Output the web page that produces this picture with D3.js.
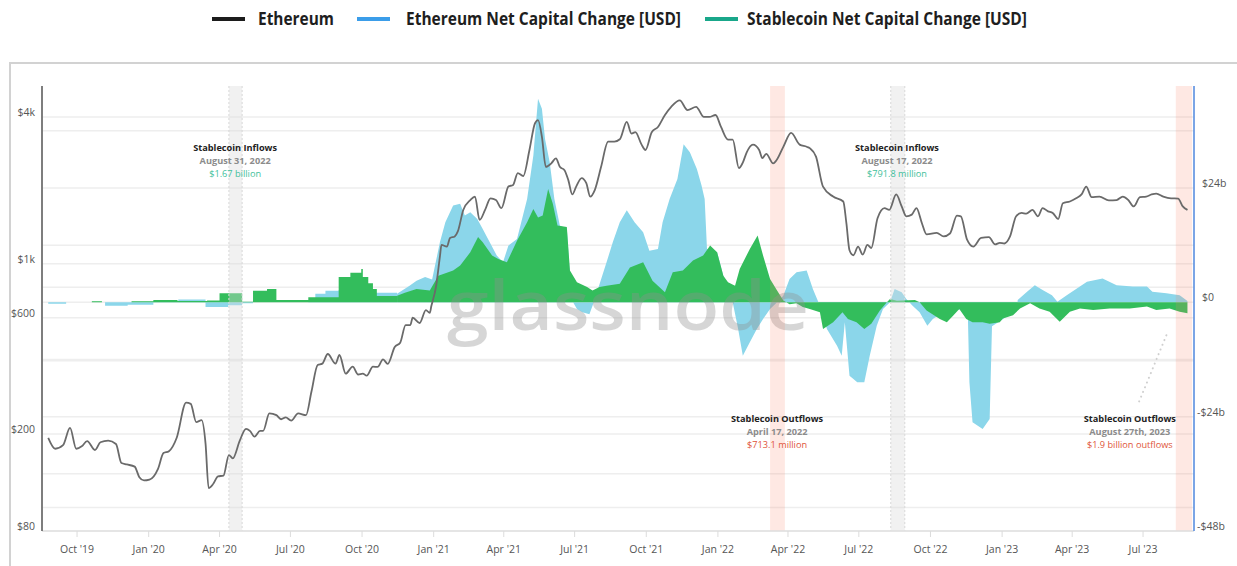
<!DOCTYPE html>
<html><head><meta charset="utf-8">
<script src="https://cdn.jsdelivr.net/npm/d3@7"></script>
<style>
html,body{margin:0;padding:0;background:#fff;}
svg{display:block;font-family:"Open Sans",sans-serif;}
</style></head><body>
<svg id="c" width="1237" height="566"></svg>
<script>
// ---------- DATA ----------
const seriesNames = ["Ethereum", "Ethereum Net Capital Change [USD]", "Stablecoin Net Capital Change [USD]"];
const leftTicks = [80, 200, 600, 1000, 4000];
const leftTickLabels = ["$80", "$200", "$600", "$1k", "$4k"];
const leftGrid = [80, 100, 200, 400, 600, 800, 1000, 4000];
const rightTicks = [-48, -24, 0, 24];
const rightTickLabels = ["-$48b", "-$24b", "$0", "$24b"];
const rightGrid = [-48, -36, -24, -12, 0, 12, 24, 36];

// Ethereum price (USD)
const ethPrice = [["2019-08-25",193],["2019-09-03",174],["2019-09-13",180],["2019-09-22",212],["2019-09-30",174],["2019-10-07",178],["2019-10-14",187],["2019-10-24",172],["2019-10-31",185],["2019-11-10",188],["2019-11-20",182],["2019-11-27",152],["2019-12-04",150],["2019-12-14",147],["2019-12-20",133],["2019-12-26",129],["2020-01-02",130],["2020-01-13",144],["2020-01-20",167],["2020-01-27",170],["2020-02-06",193],["2020-02-18",269],["2020-02-24",266],["2020-03-02",224],["2020-03-09",228],["2020-03-14",183],["2020-03-18",120],["2020-03-24",125],["2020-03-30",134],["2020-04-06",135],["2020-04-13",164],["2020-04-18",159],["2020-04-27",188],["2020-05-05",210],["2020-05-10",206],["2020-05-16",195],["2020-05-23",206],["2020-05-27",206],["2020-06-04",243],["2020-06-13",239],["2020-06-19",230],["2020-06-25",234],["2020-07-02",227],["2020-07-11",243],["2020-07-21",239],["2020-07-28",298],["2020-08-05",384],["2020-08-11",389],["2020-08-18",426],["2020-08-28",389],["2020-09-02",422],["2020-09-10",354],["2020-09-19",378],["2020-09-26",351],["2020-10-02",354],["2020-10-07",347],["2020-10-15",378],["2020-10-21",377],["2020-10-28",405],["2020-11-03",388],["2020-11-12",455],["2020-11-19",474],["2020-11-26",560],["2020-12-02",560],["2020-12-05",600],["2020-12-14",571],["2020-12-22",645],["2020-12-27",628],["2020-12-29",670],["2021-01-04",805],["2021-01-09",1069],["2021-01-11",1194],["2021-01-18",1175],["2021-01-22",1274],["2021-01-28",1294],["2021-02-01",1356],["2021-02-08",1662],["2021-02-17",1825],["2021-02-23",1885],["2021-03-01",1512],["2021-03-08",1662],["2021-03-15",1854],["2021-03-22",1825],["2021-03-29",1690],["2021-04-07",2072],["2021-04-13",2105],["2021-04-19",2353],["2021-04-26",2290],["2021-05-04",2928],["2021-05-11",3761],["2021-05-15",3880],["2021-05-20",3317],["2021-05-25",2497],["2021-06-01",2579],["2021-06-07",2706],["2021-06-12",2497],["2021-06-18",2420],["2021-06-23",2197],["2021-06-28",1924],["2021-07-03",2072],["2021-07-10",2245],["2021-07-16",2140],["2021-07-21",1885],["2021-07-27",2010],["2021-08-04",2497],["2021-08-13",3170],["2021-08-21",3170],["2021-08-28",3240],["2021-09-06",3820],["2021-09-12",3420],["2021-09-17",3465],["2021-09-25",3080],["2021-09-30",2928],["2021-10-08",3465],["2021-10-16",3640],["2021-10-25",4075],["2021-11-02",4400],["2021-11-13",4680],["2021-11-23",4270],["2021-12-04",4400],["2021-12-14",4000],["2021-12-21",4000],["2021-12-29",4075],["2022-01-05",3640],["2022-01-14",3230],["2022-01-20",3230],["2022-01-28",2467],["2022-02-02",2600],["2022-02-07",2865],["2022-02-15",3080],["2022-02-23",2928],["2022-02-27",2710],["2022-03-04",2820],["2022-03-13",2580],["2022-03-17",2650],["2022-03-26",3015],["2022-04-05",3440],["2022-04-16",3080],["2022-04-25",3020],["2022-04-29",2980],["2022-05-07",2750],["2022-05-16",2070],["2022-05-29",1885],["2022-06-11",1800],["2022-06-15",1466],["2022-06-19",1135],["2022-06-24",1083],["2022-06-30",1175],["2022-07-06",1090],["2022-07-12",1194],["2022-07-17",1160],["2022-07-25",1536],["2022-08-03",1690],["2022-08-09",1662],["2022-08-18",1924],["2022-08-25",1718],["2022-08-31",1565],["2022-09-07",1590],["2022-09-13",1690],["2022-09-20",1466],["2022-09-26",1320],["2022-10-09",1337],["2022-10-18",1295],["2022-10-26",1330],["2022-11-04",1575],["2022-11-09",1565],["2022-11-17",1254],["2022-11-25",1175],["2022-12-05",1275],["2022-12-15",1285],["2022-12-23",1200],["2022-12-29",1218],["2023-01-04",1210],["2023-01-11",1290],["2023-01-19",1565],["2023-01-26",1615],["2023-02-01",1605],["2023-02-09",1662],["2023-02-16",1565],["2023-02-22",1690],["2023-03-01",1640],["2023-03-07",1615],["2023-03-14",1525],["2023-03-20",1770],["2023-03-29",1800],["2023-04-06",1854],["2023-04-13",1924],["2023-04-19",2072],["2023-04-26",1875],["2023-05-06",1885],["2023-05-18",1820],["2023-05-28",1825],["2023-06-05",1885],["2023-06-12",1825],["2023-06-19",1718],["2023-06-27",1875],["2023-07-05",1885],["2023-07-12",1924],["2023-07-18",1940],["2023-07-27",1885],["2023-08-06",1854],["2023-08-15",1850],["2023-08-21",1718],["2023-08-27",1662]];

// Ethereum net capital change (USD billions)
const ethFlow = [["2019-08-25",-0.3],["2019-09-17",0],["2019-11-06",-0.7],["2019-12-05",-0.5],["2020-01-07",0.1],["2020-02-08",0.6],["2020-03-14",-1.0],["2020-04-12",-0.6],["2020-04-30",-0.2],["2020-05-14",0],["2020-07-24",0.3],["2020-08-02",1.8],["2020-08-15",2.4],["2020-09-01",2.6],["2020-09-10",1.5],["2020-10-15",2.0],["2020-11-15",1.8],["2020-12-01",3.5],["2020-12-10",4.5],["2020-12-21",5.3],["2020-12-30",4.8],["2021-01-09",12.6],["2021-01-16",16.8],["2021-01-26",20.3],["2021-02-04",20.7],["2021-02-10",18.2],["2021-02-17",18.9],["2021-02-26",17.5],["2021-03-05",15.4],["2021-03-14",12.6],["2021-03-23",9.8],["2021-03-31",8.4],["2021-04-07",11.9],["2021-04-18",13.3],["2021-05-01",21.7],["2021-05-09",30.8],["2021-05-15",42.7],["2021-05-20",40.6],["2021-05-24",34.3],["2021-05-30",29.4],["2021-06-05",21.7],["2021-06-12",16.1],["2021-06-21",15.4],["2021-06-25",5.6],["2021-06-29",0],["2021-07-04",-1.4],["2021-07-11",-2.1],["2021-07-20",-2.5],["2021-07-24",-0.7],["2021-07-31",2.8],["2021-08-11",8.4],["2021-08-19",12.6],["2021-08-28",16.8],["2021-09-06",19.3],["2021-09-16",16.8],["2021-09-27",14.7],["2021-10-05",10.8],["2021-10-16",11.2],["2021-10-22",16.8],["2021-10-31",21.7],["2021-11-10",25.9],["2021-11-18",33.2],["2021-11-26",31.5],["2021-12-05",28.0],["2021-12-11",24.5],["2021-12-15",21.7],["2021-12-18",11.2],["2021-12-31",10.5],["2022-01-08",5.6],["2022-01-20",0],["2022-01-27",-5.6],["2022-02-02",-11.2],["2022-02-11",-8.4],["2022-02-20",-5.6],["2022-02-28",-3.5],["2022-03-09",-1.4],["2022-03-18",0],["2022-03-26",1.4],["2022-04-03",4.9],["2022-04-12",6.3],["2022-04-25",6.7],["2022-05-03",2.8],["2022-05-12",-0.7],["2022-05-21",-5.6],["2022-06-03",-9.1],["2022-06-09",-11.2],["2022-06-13",-4.2],["2022-06-19",-15.4],["2022-06-29",-16.8],["2022-07-08",-16.8],["2022-07-15",-11.2],["2022-07-24",-4.9],["2022-08-01",-1.4],["2022-08-10",0],["2022-08-16",2.8],["2022-08-25",2.1],["2022-08-31",0.7],["2022-09-08",-0.7],["2022-09-17",-2.1],["2022-09-27",-4.9],["2022-10-04",-3.5],["2022-10-17",-2.1],["2022-10-30",-1.7],["2022-11-11",-1.4],["2022-11-18",-2.8],["2022-11-20",-16.8],["2022-11-24",-25.2],["2022-12-07",-26.6],["2022-12-16",-24.5],["2022-12-19",-5.0],["2022-12-29",-4.0],["2023-01-20",-1.5],["2023-01-21",0.5],["2023-02-02",2.2],["2023-02-12",3.6],["2023-02-22",2.6],["2023-03-06",1.5],["2023-03-13",0.1],["2023-03-25",1.5],["2023-04-07",2.9],["2023-04-20",4.3],["2023-05-10",5.0],["2023-05-28",3.6],["2023-06-18",3.3],["2023-07-06",3.3],["2023-07-13",2.2],["2023-07-31",1.9],["2023-08-17",1.5],["2023-08-27",0.3]];

// Stablecoin net capital change (USD billions)
const stableFlow = [["2019-08-25",0],["2019-10-20",0.2],["2019-11-02",0],["2019-12-10",0.2],["2020-01-07",0.5],["2020-02-07",0.3],["2020-03-16",0.4],["2020-04-01",1.9],["2020-04-30",0.1],["2020-05-14",2.4],["2020-06-01",2.8],["2020-06-13",0.5],["2020-07-24",1.05],["2020-09-01",5.3],["2020-09-16",6.2],["2020-09-30",7.0],["2020-10-02",5.3],["2020-10-09",4.0],["2020-10-15",2.8],["2020-10-20",1.3],["2020-11-15",1.4],["2020-11-25",2.0],["2020-12-10",2.8],["2020-12-27",2.5],["2021-01-07",5.6],["2021-01-26",6.7],["2021-02-04",7.7],["2021-02-17",10.5],["2021-02-27",13.7],["2021-03-05",12.6],["2021-03-17",9.8],["2021-03-25",9.1],["2021-04-05",8.4],["2021-04-18",12.9],["2021-05-01",16.8],["2021-05-09",19.6],["2021-05-15",17.8],["2021-05-21",18.2],["2021-05-28",23.8],["2021-06-03",20.7],["2021-06-09",16.1],["2021-06-21",15.8],["2021-06-25",6.7],["2021-07-04",4.2],["2021-07-17",3.2],["2021-07-24",2.5],["2021-08-02",3.2],["2021-08-11",3.5],["2021-08-28",3.9],["2021-09-10",7.3],["2021-09-27",8.4],["2021-10-09",4.5],["2021-10-25",2.1],["2021-11-04",6.3],["2021-11-17",6.7],["2021-11-30",8.8],["2021-12-13",9.8],["2021-12-22",11.9],["2021-12-31",10.5],["2022-01-08",5.6],["2022-01-14",4.2],["2022-01-23",3.5],["2022-01-29",7.0],["2022-02-11",11.2],["2022-02-21",14.0],["2022-02-28",9.8],["2022-03-09",4.9],["2022-03-18",2.5],["2022-03-26",0.4],["2022-04-03",-0.4],["2022-04-12",-0.2],["2022-04-20",-1.0],["2022-04-29",-1.4],["2022-05-12",-2.1],["2022-05-16",-5.6],["2022-05-29",-4.2],["2022-06-10",-2.1],["2022-06-17",-3.5],["2022-06-28",-4.2],["2022-07-08",-5.6],["2022-07-17",-4.5],["2022-07-28",-1.7],["2022-08-06",0],["2022-08-10",0.7],["2022-08-19",0.35],["2022-09-11",0.5],["2022-09-17",0],["2022-09-26",-1.7],["2022-10-13",-3.5],["2022-10-22",-4.2],["2022-10-30",-2.8],["2022-11-07",-1.4],["2022-11-16",-3.5],["2022-11-24",-4.2],["2022-12-07",-4.2],["2022-12-16",-4.5],["2022-12-29",-4.2],["2023-01-02",-3.4],["2023-01-15",-2.7],["2023-01-24",-1.3],["2023-02-06",-0.2],["2023-02-18",-1.3],["2023-03-03",-2.0],["2023-03-16",-4.1],["2023-03-29",-2.0],["2023-04-11",-1.3],["2023-04-28",-1.6],["2023-05-19",-1.3],["2023-06-14",-1.3],["2023-07-06",-0.9],["2023-07-18",-1.6],["2023-08-04",-1.3],["2023-08-17",-2.0],["2023-08-27",-2.3]];

// the early, weekly-resolution part of the flow series is drawn as steps
const stepUntil = "2020-11-15";

// highlighted periods
const bands = [["2020-04-13","2020-04-30","gray"],["2022-03-09","2022-03-28","red"],["2022-08-11","2022-08-29","gray"],["2023-08-12","2023-09-02","red"]];

// annotations: [center date, right-axis value of first baseline, title, date text, value text, kind]
const annotations = [
  ["2020-04-21", 31.8, "Stablecoin Inflows", "August 31, 2022", "$1.67 billion", "in"],
  ["2022-08-19", 31.8, "Stablecoin Inflows", "August 17, 2022", "$791.8 million", "in"],
  ["2022-03-18", -25.1, "Stablecoin Outflows", "April 17, 2022", "$713.1 million", "out"],
  ["2023-06-14", -25.1, "Stablecoin Outflows", "August 27th, 2023", "$1.9 billion outflows", "out"]
];
const leader = [["2023-06-26", -20.8], ["2023-08-02", -6.1]];

// ---------- CHART ----------
const svg = d3.select("#c");
const P = {left:42, right:1194, top:86, bottom:531};
const parse = d3.utcParse("%Y-%m-%d");
const x = d3.scaleUtc().domain([parse("2019-08-17"), new Date(Date.UTC(2023,8,4,10))]).range([P.left, P.right]);
const yL = d3.scaleLog().domain([80, 5360]).range([P.bottom, P.top]);
const yR = d3.scaleLinear().domain([-48, 45.4]).range([P.bottom, P.top]);

const colors = {eth:"#6a6a6a", ethFlow:"#8bd6ea", stable:"#33bd5c",
  legEth:"#1c1c1c", legBlue:"#3b9de9", legGreen:"#19a78a"};

// card
svg.append("rect").attr("x",10).attr("y",63).attr("width",1240).attr("height",520)
  .attr("fill","#fff").attr("stroke","#d2d2d2").attr("stroke-width",2);

// legend
const legItems = [
  {label:seriesNames[0], color:colors.legEth, sx:212, tx:258, w:76},
  {label:seriesNames[1], color:colors.legBlue, sx:357, tx:406, w:275},
  {label:seriesNames[2], color:colors.legGreen, sx:705, tx:747, w:280}
];
const leg = svg.append("g");
legItems.forEach(it => {
  leg.append("line").attr("x1",it.sx).attr("x2",it.sx+33).attr("y1",19).attr("y2",19)
    .attr("stroke",it.color).attr("stroke-width",4);
  leg.append("text").attr("x",it.tx).attr("y",25).text(it.label)
    .attr("font-size",17).attr("font-weight",700).attr("fill","#1e1e1e")
    .attr("textLength",it.w).attr("lengthAdjust","spacingAndGlyphs");
});

// gridlines
const grid = svg.append("g");
leftGrid.forEach(v => grid.append("line").attr("x1",P.left).attr("x2",P.right)
  .attr("y1",yL(v)).attr("y2",yL(v)).attr("stroke","#eeeeee").attr("stroke-width",1.5));
rightGrid.forEach(v => grid.append("line").attr("x1",P.left).attr("x2",P.right)
  .attr("y1",yR(v)).attr("y2",yR(v)).attr("stroke","#eeeeee").attr("stroke-width",1.5));

// flow areas
function drawFlow(arr, color){
  const pts = arr.map(d => ({date:parse(d[0]), v:d[1]}));
  const split = parse(stepUntil);
  const early = pts.filter(p => p.date <= split);
  const late = pts.filter(p => p.date >= split);
  const g = svg.append("g").attr("fill", color);
  g.append("path").datum(early)
    .attr("d", d3.area().x(d=>x(d.date)).y0(yR(0)).y1(d=>yR(d.v)).curve(d3.curveStepAfter));
  g.append("path").datum(late)
    .attr("d", d3.area().x(d=>x(d.date)).y0(yR(0)).y1(d=>yR(d.v)).curve(d3.curveLinear));
}
drawFlow(ethFlow, colors.ethFlow);
drawFlow(stableFlow, colors.stable);

// watermark
svg.append("text").attr("x",447).attr("y",330).text("glassnode")
  .attr("font-size",68).attr("font-family","Open Sans, sans-serif").attr("font-weight",600)
  .attr("fill","#8f8f8f").attr("opacity",0.36)
  .attr("textLength",362).attr("lengthAdjust","spacingAndGlyphs");

// bands
bands.forEach(b => {
  const x0 = x(parse(b[0])), x1 = x(parse(b[1]));
  svg.append("rect").attr("x",x0).attr("y",P.top).attr("width",x1-x0).attr("height",P.bottom-P.top)
    .attr("fill", b[2]==="gray" ? "rgba(218,218,218,0.38)" : "rgba(250,130,100,0.18)");
  if (b[2]==="gray") {
    [x0,x1].forEach(xx => svg.append("line").attr("x1",xx).attr("x2",xx).attr("y1",P.top).attr("y2",P.bottom)
      .attr("stroke","#d8d8d8").attr("stroke-width",1).attr("stroke-dasharray","2,2"));
  }
});

// x axis
svg.append("line").attr("x1",P.left).attr("x2",P.right).attr("y1",P.bottom).attr("y2",P.bottom)
  .attr("stroke","#e2e2e2").attr("stroke-width",1.5);
const xt = x.ticks(d3.utcMonth.every(3));
const fmt = d3.utcFormat("%b '%y");
xt.forEach(t => {
  svg.append("line").attr("x1",x(t)).attr("x2",x(t)).attr("y1",P.bottom).attr("y2",P.bottom+6)
    .attr("stroke","#dcdcdc").attr("stroke-width",1);
  svg.append("text").attr("x",x(t)).attr("y",553).attr("text-anchor","middle")
    .attr("font-size",10.5).attr("fill","#555").text(fmt(t));
});

// left axis
svg.append("line").attr("x1",P.left).attr("x2",P.left).attr("y1",P.top).attr("y2",P.bottom)
  .attr("stroke","#707070").attr("stroke-width",1.8);
leftTicks.forEach((v,i) => svg.append("text").attr("x",35).attr("y",yL(v)-1)
  .attr("text-anchor","end").attr("font-size",10.5).attr("fill","#555").text(leftTickLabels[i]));

// right axis
svg.append("line").attr("x1",P.right).attr("x2",P.right).attr("y1",P.top).attr("y2",P.bottom)
  .attr("stroke","#5a8fe0").attr("stroke-width",1.6);
rightTicks.forEach((v,i) => svg.append("text").attr("x", v<0 ? 1197 : 1202).attr("y",yR(v)-1)
  .attr("font-size",10.5).attr("fill","#555").text(rightTickLabels[i]));

// price line
const pts = ethPrice.map(d => ({date:parse(d[0]), v:d[1]}));
svg.append("path").datum(pts)
  .attr("d", d3.line().x(d=>x(d.date)).y(d=>yL(d.v)).curve(d3.curveMonotoneX))
  .attr("fill","none").attr("stroke",colors.eth).attr("stroke-width",1.8).attr("stroke-linejoin","round");

// leader
svg.append("line")
  .attr("x1",x(parse(leader[0][0]))).attr("y1",yR(leader[0][1]))
  .attr("x2",x(parse(leader[1][0]))).attr("y2",yR(leader[1][1]))
  .attr("stroke","#cfcfcf").attr("stroke-width",2).attr("stroke-linecap","round")
  .attr("stroke-dasharray","0.1,5");

// annotations
annotations.forEach(a => {
  const cx = x(parse(a[0])), y0 = yR(a[1]);
  const g = svg.append("g").attr("text-anchor","middle").attr("font-size",9.2);
  g.append("text").attr("x",cx).attr("y",y0).attr("font-weight",700).attr("fill","#222").text(a[2]);
  g.append("text").attr("x",cx).attr("y",y0+13).attr("font-weight",700).attr("fill","#8c8c8c").text(a[3]);
  g.append("text").attr("x",cx).attr("y",y0+26.5).attr("fill", a[5]==="in" ? "#3fbf9c" : "#e0553b").text(a[4]);
});
</script>
</body></html>
